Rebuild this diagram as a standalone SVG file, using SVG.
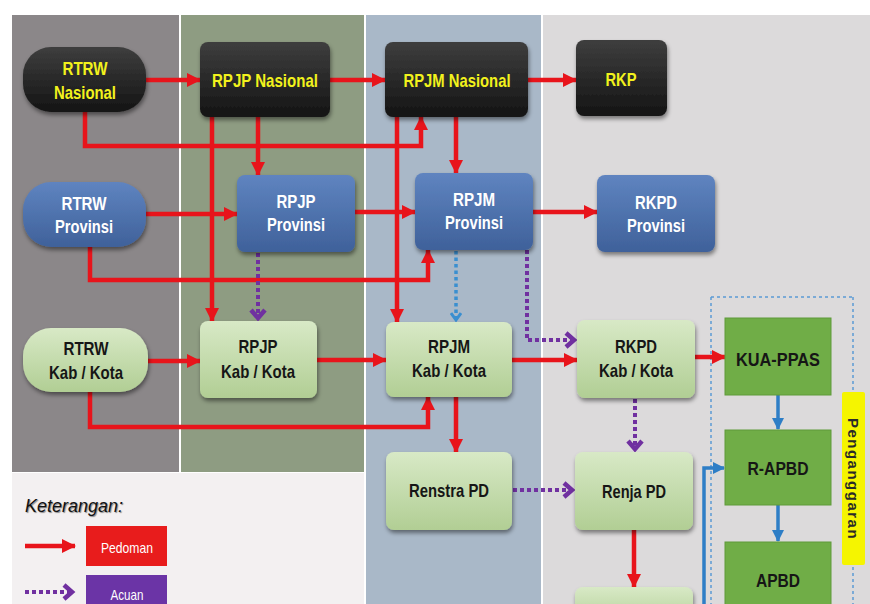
<svg xmlns="http://www.w3.org/2000/svg" width="870" height="604" viewBox="0 0 870 604">
<style>
.t{font-family:"Liberation Sans",Arial,sans-serif;font-weight:bold;font-size:19px;text-anchor:middle}
.ty{fill:#f2f21c}
.tw{fill:#ffffff}
.tk{fill:#161616}
.red{fill:none;stroke:#e8141b;stroke-width:4.5}
.pur{fill:none;stroke:#7030a0;stroke-width:4;stroke-dasharray:4 3}
.bld{fill:none;stroke:#3a8fd0;stroke-width:3.5;stroke-dasharray:3.5 3}
.blu{fill:none;stroke:#2e7ec6;stroke-width:3.5}
.nb{fill:url(#gBlack);filter:url(#sh)}
.np{fill:url(#gBlue);filter:url(#sh)}
.ng{fill:url(#gGreen);filter:url(#sh)}
.nd{fill:#70ad47;stroke:#5f9a3b;stroke-width:1}
</style>
<defs>
<linearGradient id="gBlack" x1="0" y1="0" x2="0" y2="1"><stop offset="0" stop-color="#3e3e3e"/><stop offset="1" stop-color="#141414"/></linearGradient>
<linearGradient id="gBlue" x1="0" y1="0" x2="0" y2="1"><stop offset="0" stop-color="#5f84c0"/><stop offset="1" stop-color="#3f619a"/></linearGradient>
<linearGradient id="gGreen" x1="0" y1="0" x2="0" y2="1"><stop offset="0" stop-color="#d8e9c6"/><stop offset="1" stop-color="#b1ce94"/></linearGradient>
<filter id="sh" x="-10%" y="-10%" width="125%" height="135%"><feDropShadow dx="1" dy="3" stdDeviation="2" flood-color="#000" flood-opacity="0.45"/></filter>
<marker id="ar" markerUnits="userSpaceOnUse" markerWidth="14" markerHeight="14" refX="13" refY="7" orient="auto"><path d="M0,0 L14,7 L0,14 z" fill="#e8141b"/></marker>
<marker id="ap" markerUnits="userSpaceOnUse" markerWidth="16" markerHeight="18" refX="11" refY="9" orient="auto"><path d="M2,2 L10,9 L2,16" fill="none" stroke="#7030a0" stroke-width="4.5"/></marker>
<marker id="abd" markerUnits="userSpaceOnUse" markerWidth="12" markerHeight="12" refX="8" refY="6" orient="auto"><path d="M1,1 L8,6 L1,11" fill="none" stroke="#3a8fd0" stroke-width="3"/></marker>
<marker id="ab" markerUnits="userSpaceOnUse" markerWidth="12" markerHeight="12" refX="11" refY="6" orient="auto"><path d="M0,0 L12,6 L0,12 z" fill="#2e7ec6"/></marker>
</defs>

<g id="background">
<rect x="0" y="0" width="870" height="604" fill="#ffffff"/>
<rect x="12" y="15" width="167" height="457" fill="#8b8789"/>
<rect x="181" y="15" width="183" height="457" fill="#8e9c82"/>
<rect x="12" y="473" width="352" height="131" fill="#f3f0f1"/>
<rect x="366" y="15" width="175" height="589" fill="#a9b8c8"/>
<rect x="543" y="15" width="327" height="589" fill="#dcdadb"/>
</g>

<g id="penganggaran">
<path d="M711,297 H853 M711,297 V604 M853,297 V604" fill="none" stroke="#5b9bd5" stroke-width="1.5" stroke-dasharray="3 3"/>
<rect x="842" y="392" width="23" height="173" fill="#f5f500" rx="2"/>
<text x="0" y="0" transform="translate(848,479) rotate(90)" font-family="Liberation Sans,Arial,sans-serif" font-weight="bold" font-size="15" letter-spacing="1.5" text-anchor="middle" fill="#2a2a2a">Penganggaran</text>
</g>

<g id="connectors">
<path class="red" d="M146,80 H200" marker-end="url(#ar)"/>
<path class="red" d="M330,80 H385" marker-end="url(#ar)"/>
<path class="red" d="M528,80 H576" marker-end="url(#ar)"/>
<path class="red" d="M85,112 V146 H421 V117" marker-end="url(#ar)"/>
<path class="red" d="M212,117 V321" marker-end="url(#ar)"/>
<path class="red" d="M258,117 V175" marker-end="url(#ar)"/>
<path class="red" d="M397,117 V322" marker-end="url(#ar)"/>
<path class="red" d="M456,117 V173" marker-end="url(#ar)"/>
<path class="red" d="M146,214 H237" marker-end="url(#ar)"/>
<path class="red" d="M355,212 H415" marker-end="url(#ar)"/>
<path class="red" d="M533,212 H597" marker-end="url(#ar)"/>
<path class="red" d="M90,247 V280 H428 V250" marker-end="url(#ar)"/>
<path class="red" d="M148,361 H200" marker-end="url(#ar)"/>
<path class="red" d="M317,360 H386" marker-end="url(#ar)"/>
<path class="red" d="M512,360 H577" marker-end="url(#ar)"/>
<path class="red" d="M695,357 H725" marker-end="url(#ar)"/>
<path class="red" d="M90,392 V427 H428 V397" marker-end="url(#ar)"/>
<path class="red" d="M456,397 V452" marker-end="url(#ar)"/>
<path class="red" d="M634,530 V587" marker-end="url(#ar)"/>
<path class="pur" d="M258,253 V319" marker-end="url(#ap)"/>
<path class="pur" d="M527,250 V340 H575" marker-end="url(#ap)"/>
<path class="pur" d="M635,399 V450" marker-end="url(#ap)"/>
<path class="pur" d="M513,490 H573" marker-end="url(#ap)"/>
<path class="bld" d="M456,251 V320" marker-end="url(#abd)"/>
<path class="blu" d="M778,395 V429" marker-end="url(#ab)"/>
<path class="blu" d="M778,505 V541" marker-end="url(#ab)"/>
<path class="blu" d="M704,604 V468 H724" marker-end="url(#ab)"/>
</g>

<g id="rtrw-nasional"><rect class="nb" x="23" y="47" width="123" height="65" rx="28"/><text class="t ty" x="85" y="75" textLength="45" lengthAdjust="spacingAndGlyphs">RTRW</text><text class="t ty" x="85" y="99" textLength="62" lengthAdjust="spacingAndGlyphs">Nasional</text></g>
<g id="rpjp-nasional"><rect class="nb" x="200" y="42" width="130" height="75" rx="8"/><text class="t ty" x="265" y="87" textLength="106" lengthAdjust="spacingAndGlyphs">RPJP Nasional</text></g>
<g id="rpjm-nasional"><rect class="nb" x="385" y="42" width="143" height="75" rx="8"/><text class="t ty" x="457" y="87" textLength="107" lengthAdjust="spacingAndGlyphs">RPJM Nasional</text></g>
<g id="rkp"><rect class="nb" x="576" y="40" width="91" height="76" rx="8"/><text class="t ty" x="621" y="86" textLength="31" lengthAdjust="spacingAndGlyphs">RKP</text></g>

<g id="rtrw-provinsi"><rect class="np" x="23" y="182" width="123" height="65" rx="28"/><text class="t tw" x="84" y="210" textLength="45" lengthAdjust="spacingAndGlyphs">RTRW</text><text class="t tw" x="84" y="233" textLength="58" lengthAdjust="spacingAndGlyphs">Provinsi</text></g>
<g id="rpjp-provinsi"><rect class="np" x="237" y="175" width="118" height="77" rx="8"/><text class="t tw" x="296" y="208" textLength="39" lengthAdjust="spacingAndGlyphs">RPJP</text><text class="t tw" x="296" y="231" textLength="58" lengthAdjust="spacingAndGlyphs">Provinsi</text></g>
<g id="rpjm-provinsi"><rect class="np" x="415" y="173" width="118" height="77" rx="8"/><text class="t tw" x="474" y="206" textLength="42" lengthAdjust="spacingAndGlyphs">RPJM</text><text class="t tw" x="474" y="229" textLength="58" lengthAdjust="spacingAndGlyphs">Provinsi</text></g>
<g id="rkpd-provinsi"><rect class="np" x="597" y="175" width="118" height="77" rx="8"/><text class="t tw" x="656" y="209" textLength="42" lengthAdjust="spacingAndGlyphs">RKPD</text><text class="t tw" x="656" y="232" textLength="58" lengthAdjust="spacingAndGlyphs">Provinsi</text></g>

<g id="rtrw-kabkota"><rect class="ng" x="23" y="328" width="125" height="64" rx="28"/><text class="t tk" x="86" y="355" textLength="45" lengthAdjust="spacingAndGlyphs">RTRW</text><text class="t tk" x="86" y="379" textLength="74" lengthAdjust="spacingAndGlyphs">Kab / Kota</text></g>
<g id="rpjp-kabkota"><rect class="ng" x="200" y="321" width="117" height="77" rx="8"/><text class="t tk" x="258" y="353" textLength="39" lengthAdjust="spacingAndGlyphs">RPJP</text><text class="t tk" x="258" y="378" textLength="74" lengthAdjust="spacingAndGlyphs">Kab / Kota</text></g>
<g id="rpjm-kabkota"><rect class="ng" x="386" y="322" width="126" height="75" rx="8"/><text class="t tk" x="449" y="353" textLength="42" lengthAdjust="spacingAndGlyphs">RPJM</text><text class="t tk" x="449" y="377" textLength="74" lengthAdjust="spacingAndGlyphs">Kab / Kota</text></g>
<g id="rkpd-kabkota"><rect class="ng" x="577" y="320" width="118" height="78" rx="8"/><text class="t tk" x="636" y="353" textLength="42" lengthAdjust="spacingAndGlyphs">RKPD</text><text class="t tk" x="636" y="377" textLength="74" lengthAdjust="spacingAndGlyphs">Kab / Kota</text></g>
<g id="kua-ppas"><rect class="nd" x="725" y="318" width="106" height="77"/><text class="t tk" x="778" y="366" font-size="20" textLength="84" lengthAdjust="spacingAndGlyphs">KUA-PPAS</text></g>
<g id="renstra-pd"><rect class="ng" x="386" y="452" width="126" height="78" rx="8"/><text class="t tk" x="449" y="497" textLength="80" lengthAdjust="spacingAndGlyphs">Renstra PD</text></g>
<g id="renja-pd"><rect class="ng" x="575" y="452" width="118" height="78" rx="8"/><text class="t tk" x="634" y="498" textLength="64" lengthAdjust="spacingAndGlyphs">Renja PD</text></g>
<g id="r-apbd"><rect class="nd" x="725" y="430" width="106" height="75"/><text class="t tk" x="778" y="475" font-size="20" textLength="61" lengthAdjust="spacingAndGlyphs">R-APBD</text></g>
<g id="apbd"><rect class="nd" x="725" y="542" width="106" height="76"/><text class="t tk" x="778" y="587" font-size="20" textLength="44" lengthAdjust="spacingAndGlyphs">APBD</text></g>
<g id="bottom-node"><rect class="ng" x="575" y="587" width="118" height="40" rx="8"/></g>

<g id="legend">
<text x="25" y="512" font-family="Liberation Sans,Arial,sans-serif" font-style="italic" font-size="18" fill="#111" style="text-shadow:1px 1px 1px #888">Keterangan:</text>
<path class="red" d="M25,546 H75" marker-end="url(#ar)"/>
<rect x="86" y="526" width="81" height="40" fill="#e81c1c"/>
<text x="127" y="553" font-family="Liberation Sans,Arial,sans-serif" font-size="15" fill="#fff" text-anchor="middle" textLength="52" lengthAdjust="spacingAndGlyphs">Pedoman</text>
<path class="pur" d="M25,592 H73" marker-end="url(#ap)"/>
<rect x="86" y="575" width="81" height="35" fill="#6b34a6"/>
<text x="127" y="600" font-family="Liberation Sans,Arial,sans-serif" font-size="15" fill="#fff" text-anchor="middle" textLength="33" lengthAdjust="spacingAndGlyphs">Acuan</text>
</g>
</svg>
